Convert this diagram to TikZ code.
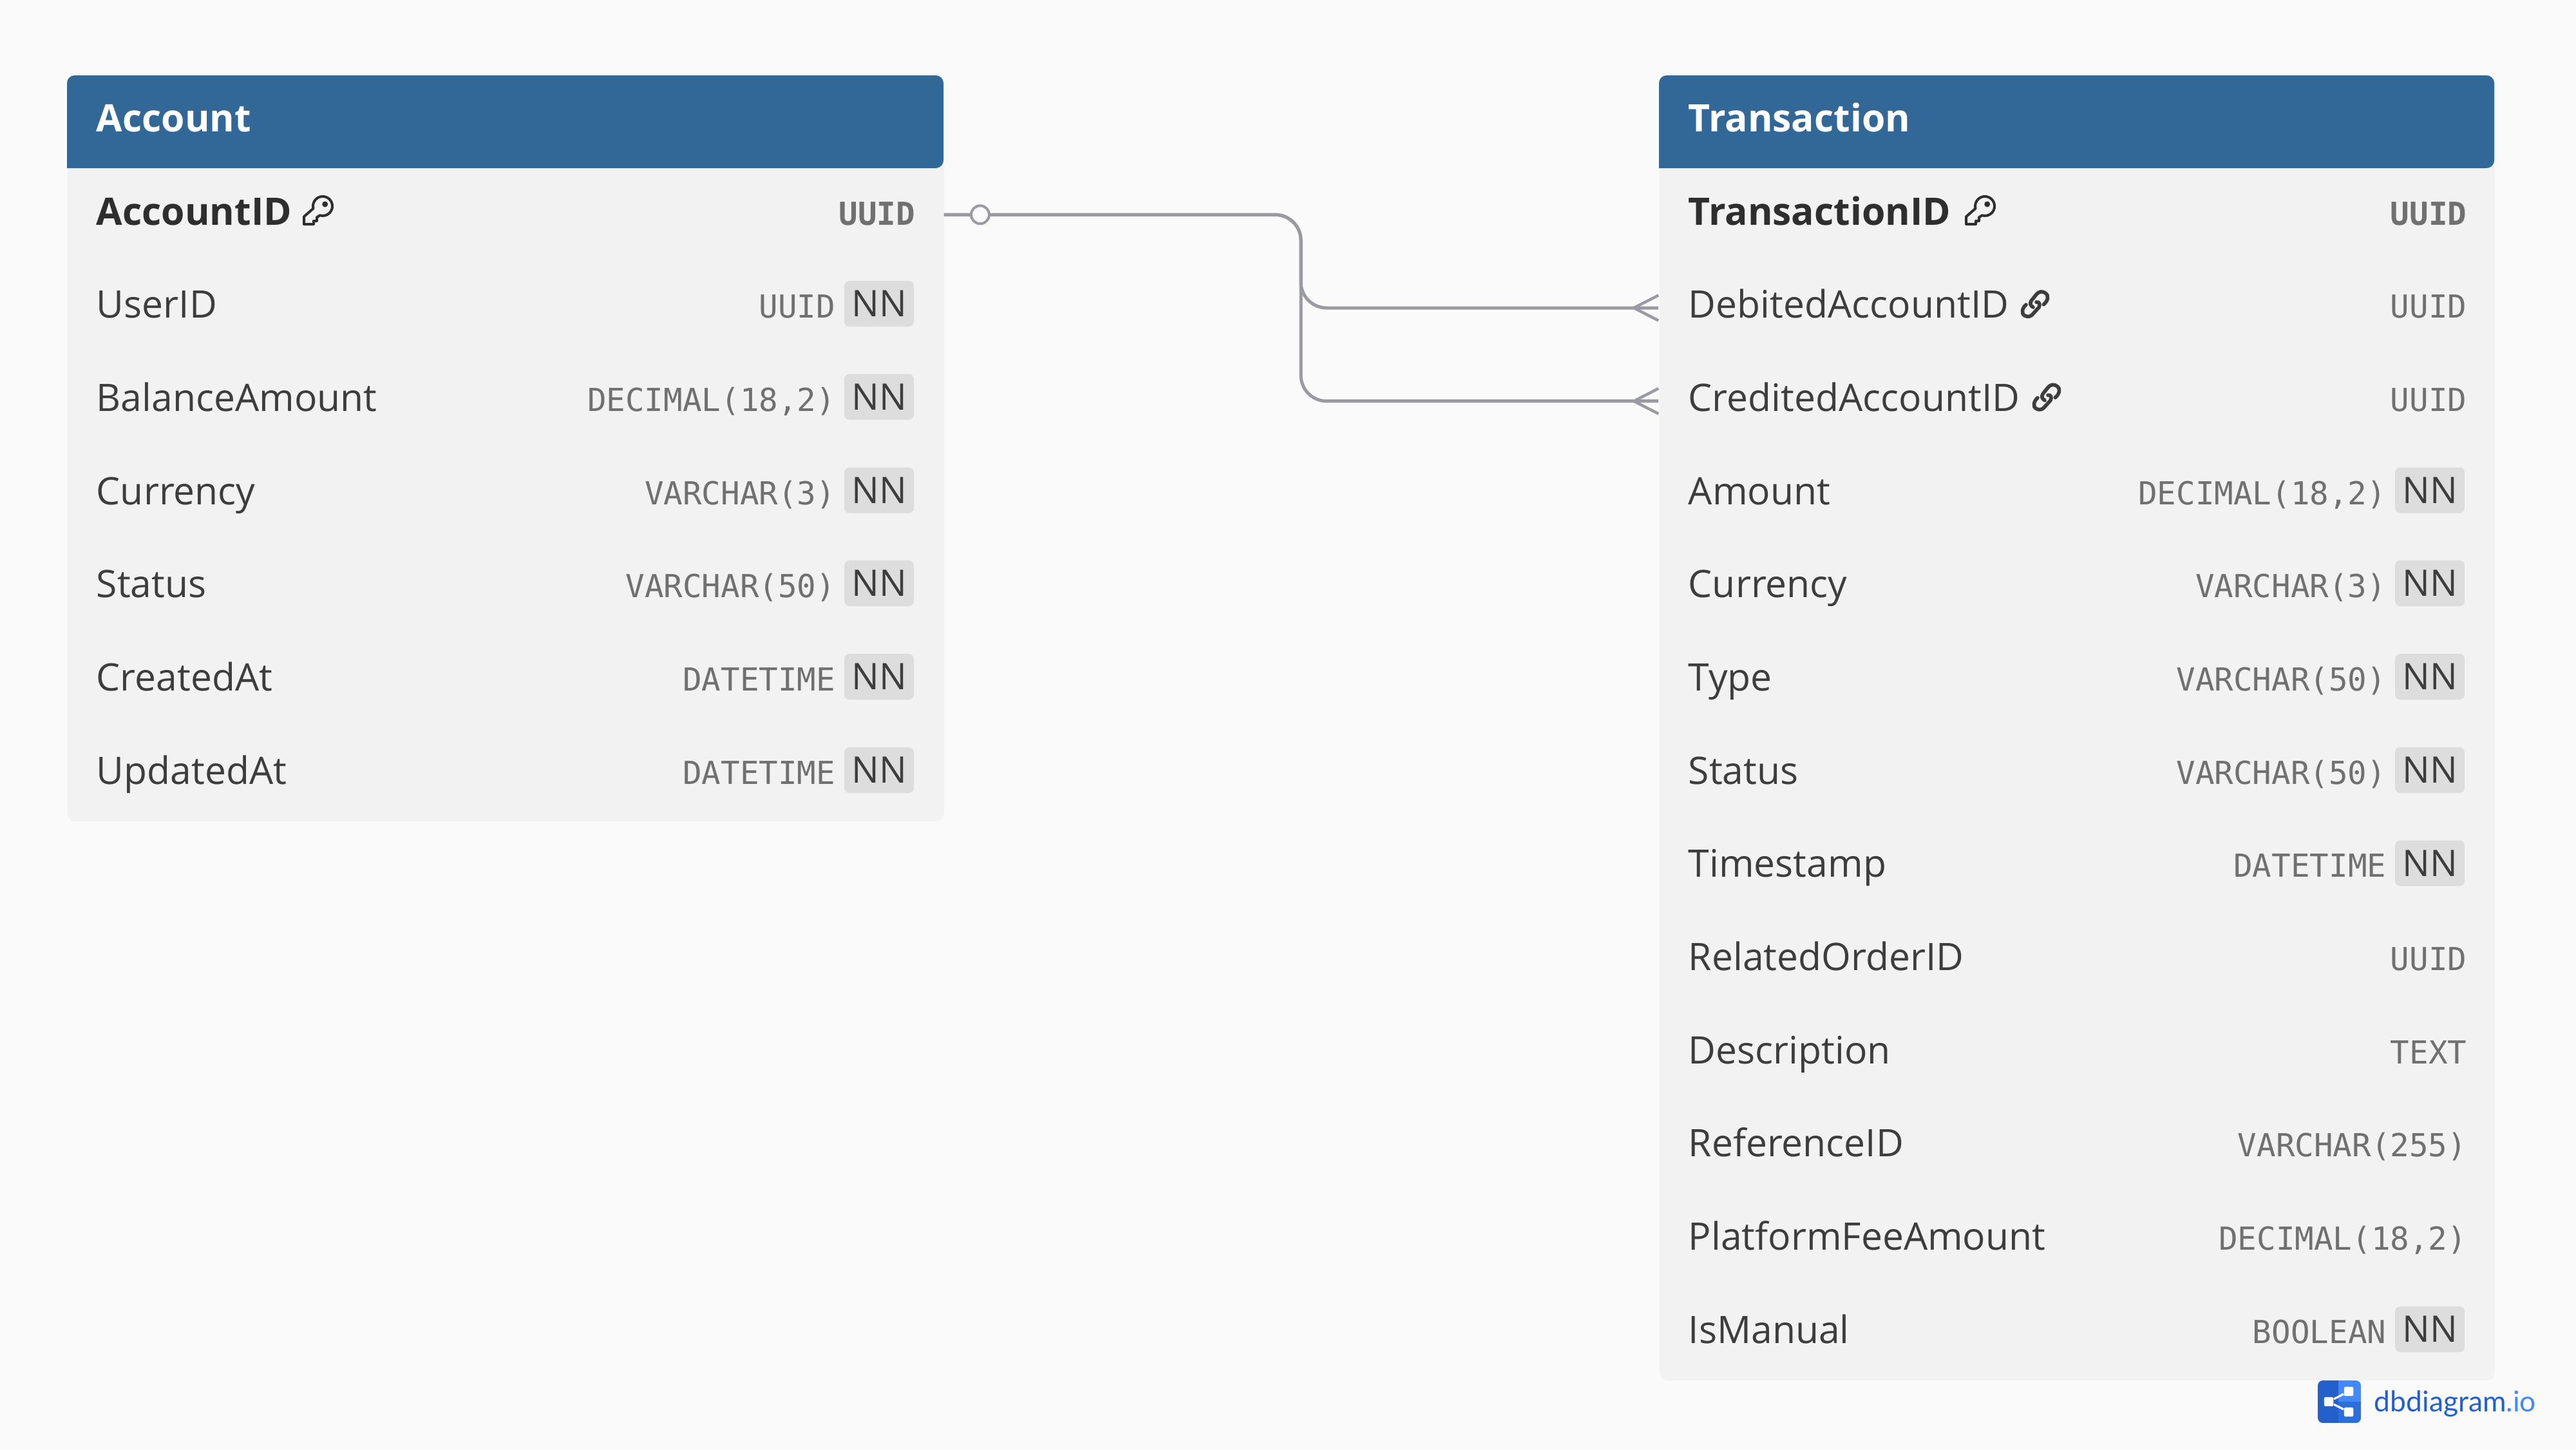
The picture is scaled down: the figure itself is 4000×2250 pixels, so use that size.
\documentclass[tikz,border=0pt]{standalone}
\usepackage{fontspec}
\setmainfont{Open Sans}
\newfontfamily\typefont{DejaVu Sans Mono}
\newfontfamily\logofont{Lato}
\usetikzlibrary{positioning}

\definecolor{pagefill}{HTML}{FAFAFA}
\definecolor{bodyfill}{HTML}{F2F2F2}
\definecolor{headfill}{HTML}{316897}
\definecolor{nnfill}{HTML}{DDDDDD}
\definecolor{fieldcol}{HTML}{3D3D3D}
\definecolor{typecol}{HTML}{707070}
\definecolor{relcol}{HTML}{9A9AA2}
\definecolor{logodark}{HTML}{2360CC}
\definecolor{logomid}{HTML}{2B6FDD}
\definecolor{logolight}{HTML}{4488FF}

\tikzset{
  tablebody/.style={anchor=north west,fill=bodyfill,rounded corners=3pt,inner sep=0},
  tabletitle/.style={anchor=base west,inner sep=0,text=white,font=\fontsize{14.7}{17}\selectfont\bfseries},
  fieldname/.style={anchor=base west,inner sep=0,text=fieldcol,font=\fontsize{14.7}{17}\selectfont},
  pkname/.style={fieldname,text=black!82,font=\fontsize{14.7}{17}\selectfont\bfseries},
  fieldtype/.style={anchor=base east,inner sep=0,text=typecol,font=\typefont\fontsize{12.3}{15}\selectfont},
  pktype/.style={fieldtype,font=\typefont\bfseries\fontsize{12.3}{15}\selectfont},
  nnbadge/.style={fill=nnfill,rounded corners=2pt,inner sep=0,minimum width=27pt,minimum height=17.75pt,
    text=fieldcol,font=\fontsize{14.2}{17}\selectfont},
  rowband/.style={inner sep=0,minimum height=36pt},
  relline/.style={draw=relcol,line width=1.25pt,rounded corners=10pt},
  crowline/.style={draw=relcol,line width=1.1pt},
  optmark/.style={circle,draw=relcol,fill=pagefill,line width=1pt,inner sep=0,minimum size=7pt},
  keyicon/.pic={
    \draw[draw=black!82,line width=1pt,line join=round] (-14.5,3.6) arc[start angle=166,end angle=467,radius=15]
      -- (-9,17.3) -- (-9,23) -- (-14,23) -- (-14,28) -- (-29,28) -- (-29,16.3) -- cycle;
    \fill[black!82] (3.7,-3) circle[radius=4.5];
  },
  linkicon/.pic={
    \draw[draw=fieldcol,line width=1.4pt,line cap=round] (13.3,1.7) .. controls (20,-4) and (22,-12) .. (16,-16)
      .. controls (11,-20) and (5,-18) .. (2,-14) -- (-6,-4) .. controls (-8,0) and (-8,3) .. (-3,6);
    \draw[draw=fieldcol,line width=1.4pt,line cap=round] (-14,2) .. controls (-20,7) and (-22,16) .. (-16,19)
      .. controls (-11,22) and (-6,20) .. (-3,16) -- (6,6) .. controls (8,2) and (7,-3) .. (2,-2);
  }
}

\begin{document}
\begin{tikzpicture}[x=0.25pt,y=-0.25pt]
  \fill[pagefill] (0,0) rectangle (4000,2250);
  % Table bodies and headers
  \path (104,117) node[tablebody,minimum width=340.25pt,minimum height=289.25pt] (AccBody) {};
  \path (2576,117) node[tablebody,minimum width=324.25pt,minimum height=506.25pt] (TrnBody) {};
  \fill[headfill] (104,261) [rounded corners=3pt] -- (104,117) -- (1465,117) -- (1465,261) [sharp corners] -- cycle;
  \fill[headfill] (2576,261) [rounded corners=3pt] -- (2576,117) -- (3873,117) -- (3873,261) [sharp corners] -- cycle;
  \path (149,204) node[tabletitle] (AccTitle) {Account};
  \path (2621,204) node[tabletitle] (TrnTitle) {Transaction};
  % Rows that the relations attach to
  \path (784.5,333.3) node[rowband,minimum width=340.25pt] (AccIDRow) {};
  \path (3224.5,478) node[rowband,minimum width=324.25pt] (TrnDebitRow) {};
  \path (3224.5,622.7) node[rowband,minimum width=324.25pt] (TrnCreditRow) {};
  % Account fields
  \path (149,349) node[pkname] (AccID) {AccountID};
  \path (1422,349) node[pktype] (AccIDType) {UUID};
  \path (149,493.5) node[fieldname] (AccUser) {UserID};
  \path (1298,493.5) node[fieldtype] (AccUserType) {UUID};
  \path (1365,471.5) node[nnbadge] (AccUserNN) {NN};
  \path (149,638) node[fieldname] (AccBalance) {BalanceAmount};
  \path (1298,638) node[fieldtype] (AccBalanceType) {DECIMAL(18,2)};
  \path (1365,616) node[nnbadge] (AccBalanceNN) {NN};
  \path (149,783) node[fieldname] (AccCurrency) {Currency};
  \path (1298,783) node[fieldtype] (AccCurrencyType) {VARCHAR(3)};
  \path (1365,761) node[nnbadge] (AccCurrencyNN) {NN};
  \path (149,927.5) node[fieldname] (AccStatus) {Status};
  \path (1298,927.5) node[fieldtype] (AccStatusType) {VARCHAR(50)};
  \path (1365,905.5) node[nnbadge] (AccStatusNN) {NN};
  \path (149,1072) node[fieldname] (AccCreated) {CreatedAt};
  \path (1298,1072) node[fieldtype] (AccCreatedType) {DATETIME};
  \path (1365,1050.5) node[nnbadge] (AccCreatedNN) {NN};
  \path (149,1217) node[fieldname] (AccUpdated) {UpdatedAt};
  \path (1298,1217) node[fieldtype] (AccUpdatedType) {DATETIME};
  \path (1365,1195.5) node[nnbadge] (AccUpdatedNN) {NN};
  % Transaction fields
  \path (2621,349) node[pkname] (TrnID) {TransactionID};
  \path (3831,349) node[pktype] (TrnIDType) {UUID};
  \path (2621,493.5) node[fieldname] (TrnDebit) {DebitedAccountID};
  \path (3831,493.5) node[fieldtype] (TrnDebitType) {UUID};
  \path (2621,638) node[fieldname] (TrnCredit) {CreditedAccountID};
  \path (3831,638) node[fieldtype] (TrnCreditType) {UUID};
  \path (2621,783) node[fieldname] (TrnAmount) {Amount};
  \path (3706,783) node[fieldtype] (TrnAmountType) {DECIMAL(18,2)};
  \path (3773,761) node[nnbadge] (TrnAmountNN) {NN};
  \path (2621,927.5) node[fieldname] (TrnCurrency) {Currency};
  \path (3706,927.5) node[fieldtype] (TrnCurrencyType) {VARCHAR(3)};
  \path (3773,905.5) node[nnbadge] (TrnCurrencyNN) {NN};
  \path (2621,1072) node[fieldname] (TrnKind) {Type};
  \path (3706,1072) node[fieldtype] (TrnKindType) {VARCHAR(50)};
  \path (3773,1050.5) node[nnbadge] (TrnKindNN) {NN};
  \path (2621,1217) node[fieldname] (TrnStatus) {Status};
  \path (3706,1217) node[fieldtype] (TrnStatusType) {VARCHAR(50)};
  \path (3773,1195.5) node[nnbadge] (TrnStatusNN) {NN};
  \path (2621,1361.5) node[fieldname] (TrnStamp) {Timestamp};
  \path (3706,1361.5) node[fieldtype] (TrnStampType) {DATETIME};
  \path (3773,1340) node[nnbadge] (TrnStampNN) {NN};
  \path (2621,1506) node[fieldname] (TrnOrder) {RelatedOrderID};
  \path (3831,1506) node[fieldtype] (TrnOrderType) {UUID};
  \path (2621,1651) node[fieldname] (TrnDesc) {Description};
  \path (3831,1651) node[fieldtype] (TrnDescType) {TEXT};
  \path (2621,1795.5) node[fieldname] (TrnRef) {ReferenceID};
  \path (3831,1795.5) node[fieldtype] (TrnRefType) {VARCHAR(255)};
  \path (2621,1940) node[fieldname] (TrnFee) {PlatformFeeAmount};
  \path (3831,1940) node[fieldtype] (TrnFeeType) {DECIMAL(18,2)};
  \path (2621,2085) node[fieldname] (TrnManual) {IsManual};
  \path (3706,2085) node[fieldtype] (TrnManualType) {BOOLEAN};
  \path (3773,2063.5) node[nnbadge] (TrnManualNN) {NN};
  % Key and link icons
  \pic at (501,320) {keyicon};
  \pic at (3082,320) {keyicon};
  \pic at (3160,471) {linkicon};
  \pic at (3178,615.5) {linkicon};
  % Relations
  \coordinate (BusX) at (2020,333.3);
  \draw[relline] (AccIDRow.east) -- (BusX |- AccIDRow.east) -- (BusX |- TrnDebitRow.west) -- (TrnDebitRow.west);
  \draw[relline] (AccIDRow.east) -- (BusX |- AccIDRow.east) -- (BusX |- TrnCreditRow.west) -- (TrnCreditRow.west);
  \path (1522,333.3) node[optmark] (AccOpt) {};
  \coordinate (DebitTip) at (2537,478);
  \coordinate (CreditTip) at (2537,622.7);
  \draw[crowline] ([yshift=4.9pt]TrnDebitRow.west) -- (DebitTip) -- ([yshift=-4.9pt]TrnDebitRow.west);
  \draw[crowline] ([yshift=4.9pt]TrnCreditRow.west) -- (CreditTip) -- ([yshift=-4.9pt]TrnCreditRow.west);
  % Logo
  \begin{scope}
    \clip[rounded corners=2pt] (3599,2143) rectangle (3666,2209);
    \fill[logodark] (3599,2143) rectangle (3631,2209);
    \fill[logolight] (3631,2143) rectangle (3666,2176);
    \fill[logomid] (3631,2176) rectangle (3666,2209);
  \end{scope}
  \path (3616,2176) node[fill=white,rounded corners=0.6pt,minimum size=3.6pt,inner sep=0] (LogoHub) {};
  \path (3647,2160) node[fill=white,rounded corners=0.6pt,minimum size=3.6pt,inner sep=0] (LogoUp) {};
  \path (3647,2192) node[fill=white,rounded corners=0.6pt,minimum size=3.6pt,inner sep=0] (LogoDown) {};
  \draw[white,line width=0.8pt] (LogoUp) -- (LogoHub) -- (LogoDown);
  \path (3686,2191) node[anchor=base west,inner sep=0,text=logodark,font=\logofont\fontsize{11.1}{13}\selectfont] (LogoText)
    {dbdiagram\textcolor{logolight}{.io}};
\end{tikzpicture}
\end{document}
